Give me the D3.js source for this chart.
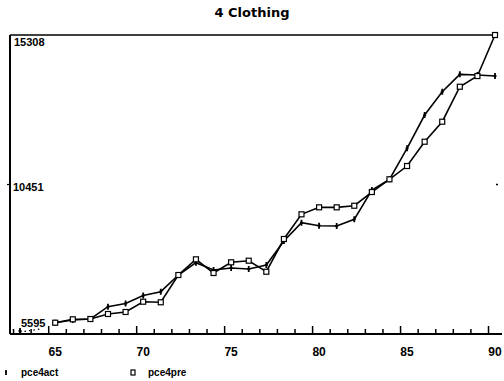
<!DOCTYPE html>
<html>
<head>
<meta charset="utf-8">
<script src="https://cdn.jsdelivr.net/npm/d3@7"></script>
<style>
  body { margin: 0; background: #fff; }
  svg { display: block; font-family: "DejaVu Sans", sans-serif; }
</style>
</head>
<body>
<div id="vis"></div>
<script>
// data
const YEARS = [1963, 1964, 1965, 1966, 1967, 1968, 1969, 1970, 1971, 1972, 1973, 1974, 1975, 1976,
               1977, 1978, 1979, 1980, 1981, 1982, 1983, 1984, 1985, 1986, 1987, 1988, 1989, 1990];
const PCE4ACT = [5595, null, 5962, 6050, 6082, 6482, 6586, 6845, 6969, 7511, 7911, 7674, 7739, 7706,
                 7836, 8616, 9210, 9113, 9103, 9320, 10272, 10620, 11627, 12708, 13465, 14030, 14007, 13975];
const PCE4PRE = [null, null, 5962, 6072, 6082, 6245, 6310, 6644, 6625, 7511, 8021, 7576, 7924, 7976,
                 7618, 8681, 9483, 9710, 9710, 9762, 10207, 10620, 11052, 11841, 12491, 13627, 13975, 15308];
const Y_TICKS = [5595, 10451, 15308];
const X_TICKS = [1965, 1970, 1975, 1980, 1985, 1990];

const FRAME_WIDTH = 504;
const FRAME_HEIGHT = 381;
const PLOT = {left: 10, right: 498, top: 35, bottom: 334};
const LABEL_FONT = "'Liberation Sans', Arial, sans-serif";

const FRAME = d3.select("#vis")
  .append("svg")
    .attr("width", FRAME_WIDTH)
    .attr("height", FRAME_HEIGHT);

// scales
const X_SCALE = d3.scaleLinear()
  .domain([1962.43, 1990.17])
  .range([PLOT.left, PLOT.right]);

const Y_SCALE = d3.scaleLinear()
  .domain([5595, 15308])
  .range([PLOT.bottom, PLOT.top]);

// title
FRAME.append("text")
  .attr("x", 252)
  .attr("y", 17)
  .attr("text-anchor", "middle")
  .attr("font-size", 13)
  .attr("font-weight", "bold")
  .text("4 Clothing");

// frame lines: left and top
FRAME.append("line")
  .attr("x1", PLOT.left).attr("x2", PLOT.left)
  .attr("y1", PLOT.top).attr("y2", PLOT.bottom)
  .attr("stroke", "#000").attr("stroke-width", 2);
FRAME.append("line")
  .attr("x1", PLOT.left).attr("x2", X_SCALE(1990))
  .attr("y1", PLOT.top).attr("y2", PLOT.top)
  .attr("stroke", "#000").attr("stroke-width", 1.5);

// x axis, one tick per year, long ones every 5 years
const xAxis = FRAME.append("g")
  .attr("transform", "translate(-7," + PLOT.bottom + ")")
  .call(d3.axisTop(X_SCALE)
    .tickValues(d3.range(1963, 1991))
    .tickSize(4)
    .tickFormat(""));
xAxis.select(".domain").remove();
xAxis.selectAll(".tick line")
  .attr("y2", (d) => X_TICKS.includes(d) ? -8 : -5)
  .attr("stroke", "#000")
  .attr("stroke-width", 1.5);
FRAME.append("line")
  .attr("x1", PLOT.left).attr("x2", 502)
  .attr("y1", PLOT.bottom).attr("y2", PLOT.bottom)
  .attr("stroke", "#000").attr("stroke-width", 2);

FRAME.selectAll(".xlab")
  .data(X_TICKS)
  .enter()
  .append("text")
    .attr("class", "xlab")
    .attr("x", (d) => X_SCALE(d))
    .attr("y", 356)
    .attr("text-anchor", "middle")
    .attr("font-size", 12)
    .attr("font-weight", "bold")
    .attr("font-family", LABEL_FONT)
    .text((d) => String(d).slice(2));

// y labels, the end ones pushed inside the frame
FRAME.selectAll(".ylab")
  .data(Y_TICKS)
  .enter()
  .append("text")
    .attr("class", "ylab")
    .attr("x", (d, i) => i === 1 ? 13 : (i === 0 ? 21 : 14))
    .attr("y", (d, i) => Y_SCALE(d) + (i === 2 ? 11 : (i === 0 ? -7 : 6)))
    .attr("font-size", 11)
    .attr("font-weight", "bold")
    .attr("font-family", LABEL_FONT)
    .text((d) => d);

FRAME.append("line")
  .attr("x1", PLOT.left - 3).attr("x2", PLOT.left)
  .attr("y1", Y_SCALE(10451)).attr("y2", Y_SCALE(10451))
  .attr("stroke", "#000").attr("stroke-width", 1.2);
FRAME.append("line")
  .attr("x1", 496).attr("x2", 498)
  .attr("y1", Y_SCALE(10451)).attr("y2", Y_SCALE(10451))
  .attr("stroke", "#000").attr("stroke-width", 1.5);

// series
const actData = YEARS.map((y, i) => ({year: y, v: PCE4ACT[i]}));
const preData = YEARS.map((y, i) => ({year: y, v: PCE4PRE[i]}));

const line = d3.line()
  .defined((d) => d.v !== null)
  .x((d) => X_SCALE(d.year))
  .y((d) => Y_SCALE(d.v));

// faint stub from the lone 1963 point
FRAME.append("line")
  .attr("x1", X_SCALE(1963)).attr("y1", Y_SCALE(5595) - 2)
  .attr("x2", X_SCALE(1964.2)).attr("y2", Y_SCALE(5760))
  .attr("stroke", "#000").attr("stroke-width", 1.2)
  .attr("stroke-dasharray", "1.5,3");

FRAME.append("path")
  .datum(actData.filter((d) => d.year >= 1965))
  .attr("d", line)
  .attr("fill", "none")
  .attr("stroke", "#000")
  .attr("stroke-width", 1.6);

FRAME.append("path")
  .datum(preData.filter((d) => d.year >= 1965))
  .attr("d", line)
  .attr("fill", "none")
  .attr("stroke", "#000")
  .attr("stroke-width", 1.6);

// markers: small ticks for act, hollow squares for pre
FRAME.selectAll(".act")
  .data(actData.filter((d) => d.v !== null))
  .enter()
  .append("path")
    .attr("class", "act")
    .attr("d", "M0,-3L0,3M-1.5,0L1.5,0")
    .attr("transform", (d) => "translate(" + X_SCALE(d.year) + "," + (Y_SCALE(d.v) - (d.year === 1963 ? 3 : 0)) + ")")
    .attr("stroke", "#000")
    .attr("stroke-width", 1.8);

FRAME.selectAll(".pre")
  .data(preData.filter((d) => d.v !== null))
  .enter()
  .append("rect")
    .attr("class", "pre")
    .attr("x", (d) => X_SCALE(d.year) - 2.5)
    .attr("y", (d) => Y_SCALE(d.v) - 2.5)
    .attr("width", 5)
    .attr("height", 5)
    .attr("fill", "#fff")
    .attr("stroke", "#000")
    .attr("stroke-width", 1.2);

// legend
const LEGEND = [{name: "pce4act", x: 4}, {name: "pce4pre", x: 131}];
LEGEND.forEach((d, i) => {
  if (i === 0) {
    FRAME.append("path")
      .attr("d", "M" + (d.x + 2) + ",370L" + (d.x + 2) + ",375")
      .attr("stroke", "#000").attr("stroke-width", 1.8);
  } else {
    FRAME.append("rect")
      .attr("x", d.x).attr("y", 370)
      .attr("width", 4).attr("height", 5)
      .attr("fill", "#fff").attr("stroke", "#000").attr("stroke-width", 1.2);
  }
  FRAME.append("text")
    .attr("x", d.x + 17)
    .attr("y", 376)
    .attr("font-size", 10)
    .attr("font-weight", "bold")
    .attr("font-family", LABEL_FONT)
    .text(d.name);
});
</script>
</body>
</html>
